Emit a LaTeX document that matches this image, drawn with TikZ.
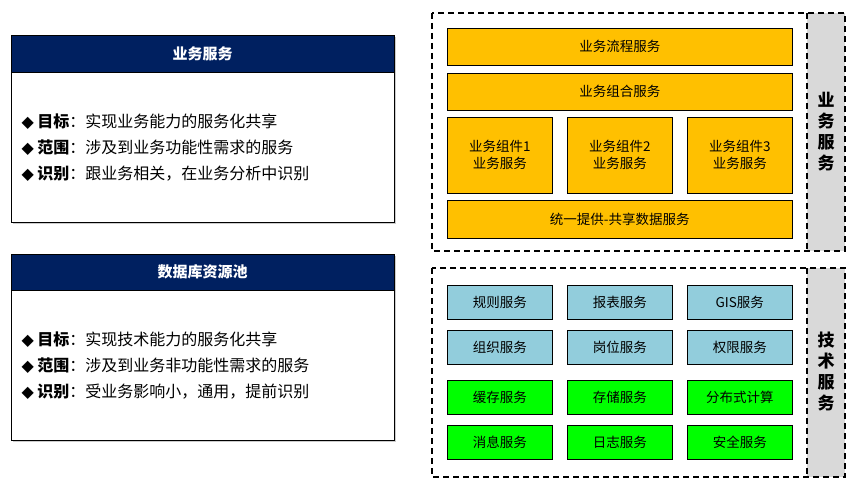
\documentclass[tikz,border=0pt]{standalone}
\usepackage{fontspec}
\setmainfont{Noto Sans CJK SC}
\newfontfamily\djvfont{DejaVu Sans}
\definecolor{ylw}{HTML}{FFC000}
\definecolor{lbl}{HTML}{92CDDC}
\definecolor{nvy}{HTML}{002060}
\begin{document}
\begin{tikzpicture}[x=1pt,y=-1pt,
 yb/.style={draw=black,fill=ylw,line width=0.6pt,font=\fontsize{13.5}{17}\selectfont,align=center},
 bb/.style={draw=black,fill=lbl,line width=0.6pt,font=\fontsize{13.5}{16}\selectfont},
 gb/.style={draw=black,fill=green,line width=0.6pt,font=\fontsize{13.5}{16}\selectfont},
 ttl/.style={fill=nvy,draw=black,text=white,font=\bfseries\fontsize{15}{18}\selectfont},
 bd/.style={draw=black,fill=white,line width=0.6pt},
 dsh/.style={draw=black,line width=2pt,dash pattern=on 6pt off 4pt},
 ln/.style={anchor=west,font=\fontsize{16}{19}\selectfont}]
\useasboundingbox (0,0) rectangle (854,489);
% left panels
\fill[gray!40] (13,37) rectangle (396,224);
\path[bd] (11,35) rectangle (394,222);
\node[ttl,minimum width=383pt,minimum height=37pt,anchor=north west,inner sep=0] (t1) at (11,35) {业务服务};
\node[ln] (a1) at (18,122) {{\djvfont◆} \textbf{目标}：实现业务能力的服务化共享};
\node[ln] (a2) at (18,148) {{\djvfont◆} \textbf{范围}：涉及到业务功能性需求的服务};
\node[ln] (a3) at (18,174) {{\djvfont◆} \textbf{识别}：跟业务相关，在业务分析中识别};
\fill[gray!40] (13,256) rectangle (396,442);
\path[bd] (11,254) rectangle (394,440);
\node[ttl,minimum width=383pt,minimum height=36pt,anchor=north west,inner sep=0] (t2) at (11,254) {数据库资源池};
\node[ln] (b1) at (18,340) {{\djvfont◆} \textbf{目标}：实现技术能力的服务化共享};
\node[ln] (b2) at (18,366) {{\djvfont◆} \textbf{范围}：涉及到业务非功能性需求的服务};
\node[ln] (b3) at (18,392) {{\djvfont◆} \textbf{识别}：受业务影响小，通用，提前识别};
% right top
\fill[gray!30] (807,13) rectangle (845,251);
\draw[dsh] (432,13) rectangle (845,251);
\draw[dsh] (807,13) -- (807,251);
\node[font=\bfseries\fontsize{17}{21}\selectfont,align=center] (s1) at (826,132) {业\\务\\服\\务};
\node[yb,minimum width=345pt,minimum height=37pt,anchor=north west,inner sep=0] (y1) at (447,28) {业务流程服务};
\node[yb,minimum width=345pt,minimum height=37pt,anchor=north west,inner sep=0] (y2) at (447,73) {业务组合服务};
\foreach \i/\x in {1/447,2/567,3/687}
 \node[yb,minimum width=105pt,minimum height=76pt,anchor=north west,inner sep=0] (c\i) at (\x,117) {业务组件\i\\业务服务};
\node[yb,minimum width=345pt,minimum height=38pt,anchor=north west,inner sep=0] (y4) at (447,200) {统一提供-共享数据服务};
% right bottom
\fill[gray!30] (807,268) rectangle (845,477);
\draw[dsh] (432,268) rectangle (845,477);
\draw[dsh] (807,268) -- (807,477);
\node[font=\bfseries\fontsize{17}{21}\selectfont,align=center] (s2) at (826,372) {技\\术\\服\\务};
\tikzset{sm/.style={minimum width=105pt,minimum height=34pt,anchor=north west,inner sep=0}}
\node[bb,sm] (r1) at (447,285) {规则服务};
\node[bb,sm] (r2) at (567,285) {报表服务};
\node[bb,sm] (r3) at (687,285) {GIS服务};
\node[bb,sm] (r4) at (447,330) {组织服务};
\node[bb,sm] (r5) at (567,330) {岗位服务};
\node[bb,sm] (r6) at (687,330) {权限服务};
\node[gb,sm] (g1) at (447,380) {缓存服务};
\node[gb,sm] (g2) at (567,380) {存储服务};
\node[gb,sm] (g3) at (687,380) {分布式计算};
\node[gb,sm] (g4) at (447,425) {消息服务};
\node[gb,sm] (g5) at (567,425) {日志服务};
\node[gb,sm] (g6) at (687,425) {安全服务};
\end{tikzpicture}
\end{document}
